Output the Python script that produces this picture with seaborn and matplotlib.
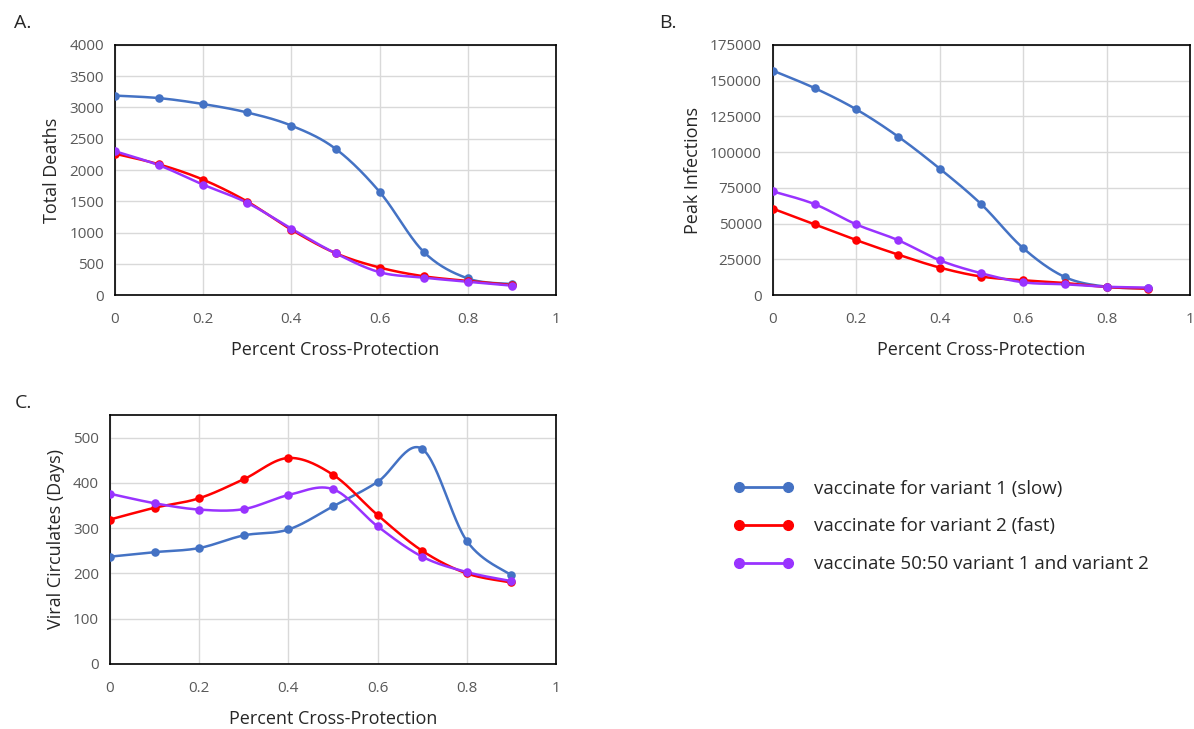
import numpy as np
import pandas as pd
import matplotlib
matplotlib.use("Agg")
import matplotlib.pyplot as plt
from matplotlib.lines import Line2D
import seaborn as sns

# data
protection = [0, 0.1, 0.2, 0.3, 0.4, 0.5, 0.6, 0.7, 0.8, 0.9]

deaths_v1 = [3190, 3150, 3055, 2920, 2710, 2340, 1650, 690, 265, 175]
deaths_v2 = [2260, 2090, 1845, 1495, 1045, 670, 440, 300, 225, 160]
deaths_mix = [2300, 2075, 1765, 1475, 1060, 668, 365, 278, 212, 150]

peak_v1 = [157000, 144800, 129900, 110900, 88400, 63400, 32800, 12600, 5800, 4700]
peak_v2 = [60400, 49400, 38400, 28300, 19200, 12900, 10300, 8400, 5600, 4400]
peak_mix = [72500, 63600, 49400, 38400, 24300, 15200, 8900, 7500, 5800, 5200]

days_v1 = [237, 247, 256, 284, 297, 348, 402, 475, 272, 196]
days_v2 = [319, 345, 366, 408, 455, 418, 329, 250, 200, 180]
days_mix = [376, 355, 341, 342, 373, 386, 304, 237, 203, 183]

series_names = ["vaccinate for variant 1 (slow)",
                "vaccinate for variant 2 (fast)",
                "vaccinate 50:50 variant 1 and variant 2"]
colors = ["#4472C4", "#FF0000", "#9933FF"]


def smooth(x, y, n=30):
    # Excel-style smoothed line (Catmull-Rom as cubic Bezier segments)
    x = np.asarray(x, float)
    y = np.asarray(y, float)
    px = np.concatenate([[x[0]], x, [x[-1]]])
    py = np.concatenate([[y[0]], y, [y[-1]]])
    xs, ys = [], []
    t = np.linspace(0, 1, n)
    for i in range(1, len(px) - 2):
        p0 = np.array([px[i], py[i]])
        p3 = np.array([px[i + 1], py[i + 1]])
        c1 = p0 + (np.array([px[i + 1], py[i + 1]]) - np.array([px[i - 1], py[i - 1]])) / 6
        c2 = p3 - (np.array([px[i + 2], py[i + 2]]) - np.array([px[i], py[i]])) / 6
        b = ((1 - t) ** 3)[:, None] * p0 + (3 * (1 - t) ** 2 * t)[:, None] * c1 \
            + (3 * (1 - t) * t ** 2)[:, None] * c2 + (t ** 3)[:, None] * p3
        xs.extend(b[:, 0])
        ys.extend(b[:, 1])
    return xs, ys


sns.set_theme(style="white")
plt.rcParams["font.family"] = ["Open Sans", "DejaVu Sans"]

fig = plt.figure(figsize=(11.94, 7.29), dpi=100)
ax_a = fig.add_axes([0.0963, 0.5953, 0.3694, 0.343])
ax_b = fig.add_axes([0.6474, 0.5953, 0.3492, 0.343])
ax_c = fig.add_axes([0.0921, 0.0892, 0.3735, 0.3416])

panels = [
    (ax_a, [deaths_v1, deaths_v2, deaths_mix], "Total Deaths", 4000, np.arange(0, 4001, 500)),
    (ax_b, [peak_v1, peak_v2, peak_mix], "Peak Infections", 175000, np.arange(0, 175001, 25000)),
    (ax_c, [days_v1, days_v2, days_mix], "Viral Circulates (Days)", 550, np.arange(0, 501, 100)),
]

for ax, ys, ylabel, ymax, yticks in panels:
    for vals, name, col in zip(ys, series_names, colors):
        sx, sy = smooth(protection, vals)
        line_df = pd.DataFrame({"x": sx, "y": sy})
        sns.lineplot(data=line_df, x="x", y="y", ax=ax, color=col, lw=1.8,
                     sort=False, estimator=None)
        pts = pd.DataFrame({"x": protection, "y": vals})
        sns.scatterplot(data=pts, x="x", y="y", ax=ax, color=col, s=38,
                        edgecolor=col, linewidth=0, zorder=3)
    ax.set_xlim(0, 1)
    ax.set_ylim(0, ymax)
    ax.set_xticks([0, 0.2, 0.4, 0.6, 0.8, 1])
    ax.set_xticklabels(["0", "0.2", "0.4", "0.6", "0.8", "1"])
    ax.set_yticks(yticks)
    ax.grid(True, color="#D9D9D9", lw=1)
    ax.set_axisbelow(True)
    ax.tick_params(axis="both", length=0, labelsize=11, labelcolor="#595959")
    ax.tick_params(axis="x", pad=12)
    ax.tick_params(axis="y", pad=8)
    for sp in ax.spines.values():
        sp.set_color("black")
        sp.set_linewidth(1.2)
    ax.set_xlabel("Percent Cross-Protection", fontsize=13, labelpad=10)
    ax.set_ylabel(ylabel, fontsize=13, labelpad=6)

ax_c.xaxis.labelpad = 10

fig.text(0.012, 0.962, "A.", fontsize=14)
fig.text(0.552, 0.962, "B.", fontsize=14)
fig.text(0.012, 0.44, "C.", fontsize=14)

handles = [Line2D([0], [0], color=c, lw=2, marker="o", markersize=7) for c in colors]
fig.legend(handles, series_names, loc="upper left", bbox_to_anchor=(0.6, 0.365),
           numpoints=2, frameon=False, fontsize=13.5, handlelength=3.2,
           handletextpad=1.1, labelspacing=1.05)

fig.savefig("out.png", dpi=100)
